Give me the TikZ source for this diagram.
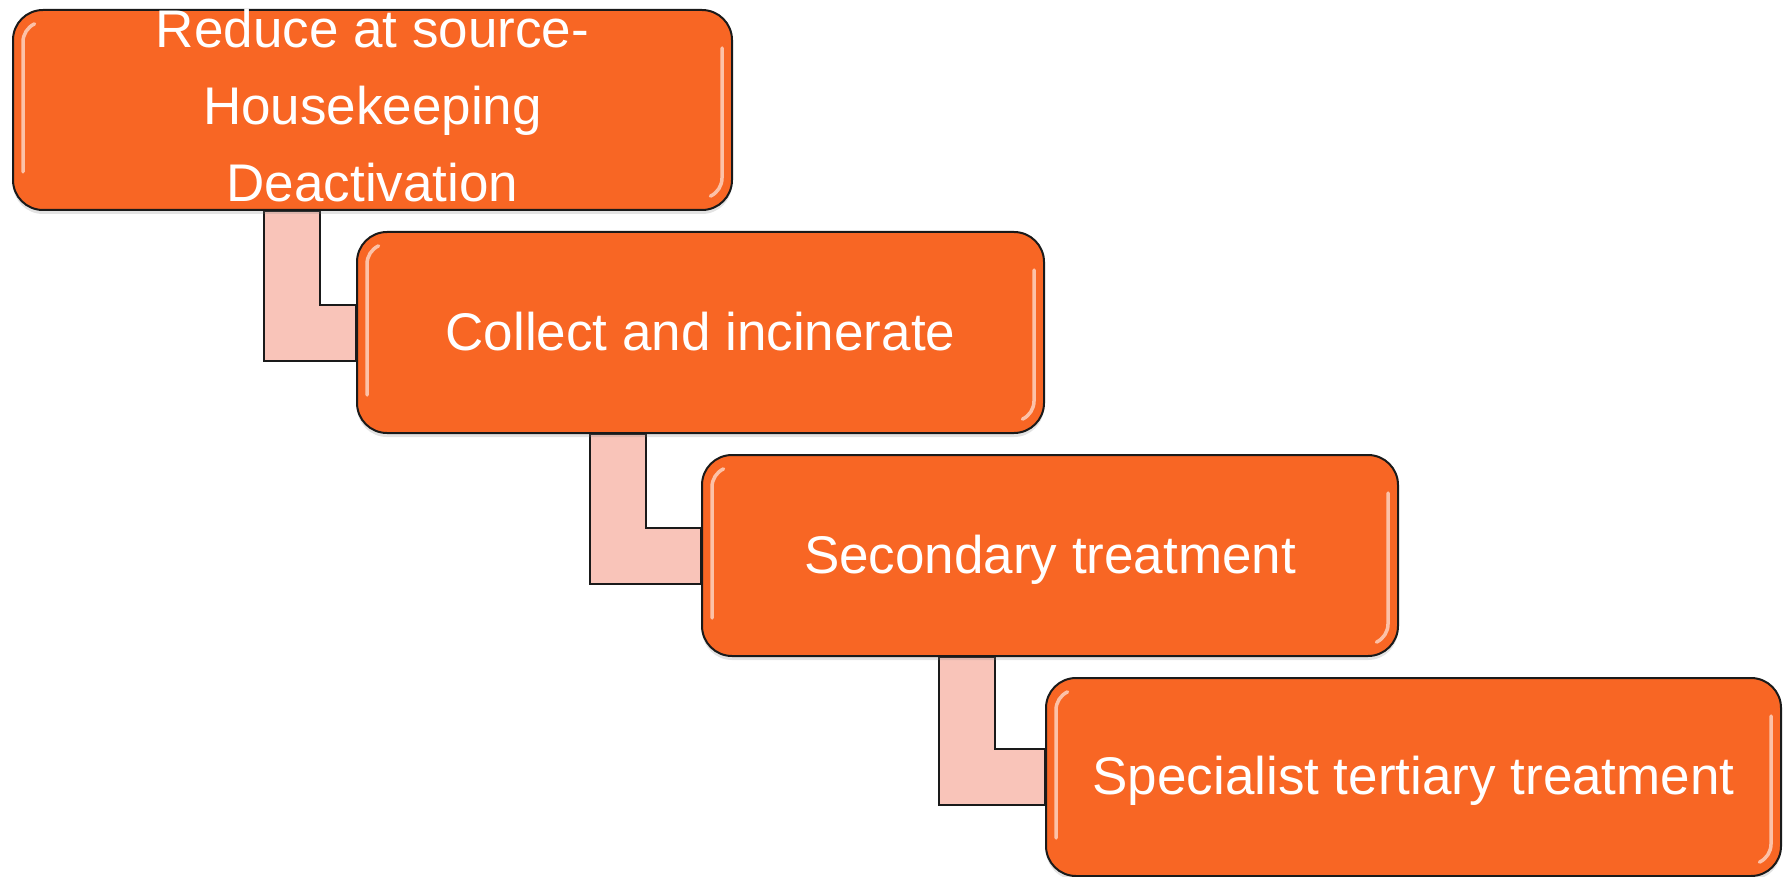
\documentclass[tikz,border=0pt]{standalone}
\usepackage{fontspec}
\setmainfont{Liberation Sans}
\usetikzlibrary{calc,shadows,backgrounds}
\definecolor{boxorange}{HTML}{F86624}
\definecolor{connpink}{HTML}{F9C4B9}
\definecolor{edgedark}{HTML}{1A1A1A}
\tikzset{
  stagebox/.style={draw=edgedark, line width=2pt, fill=boxorange, rounded corners=30pt,
    minimum height=200pt, anchor=north west, inner sep=0pt,
    drop shadow={opacity=0.22, shadow xshift=0pt, shadow yshift=-4pt},
    path picture={
      \draw[gloss] ([xshift=10pt,yshift=38pt]path picture bounding box.south west) -- ([xshift=10pt,yshift=-32pt]path picture bounding box.north west) arc[start angle=180, end angle=115, radius=20pt];
      \draw[gloss] ([xshift=-10pt,yshift=-38pt]path picture bounding box.north east) -- ([xshift=-10pt,yshift=32pt]path picture bounding box.south east) arc[start angle=0, end angle=-65, radius=20pt];
    }},
  gloss/.style={white, opacity=0.6, line width=3.5pt, line cap=round, sharp corners},
  stagetext/.style={text=white, font=\fontsize{53}{77}\selectfont, align=center, inner sep=0pt},
  elbow/.style={draw=edgedark, line width=2pt, fill=connpink, line join=miter},
}
\begin{document}
\begin{tikzpicture}[x=1pt,y=-1pt]
\useasboundingbox (0,0) rectangle (1787,877);
\node[stagebox, minimum width=719pt] (b1) at (12,9) {};
\node[stagebox, minimum width=687pt, minimum height=201pt] (b2) at (356,231) {};
\node[stagebox, minimum width=696pt, minimum height=201pt] (b3) at (701,454) {};
\node[stagebox, minimum width=735pt, minimum height=198pt] (b4) at (1045,677) {};
\node[stagetext] (t1) at ([yshift=4pt]b1.center) {Reduce at source-\\Housekeeping\\Deactivation};
\node[stagetext, anchor=base] (t2) at ([yshift=-18pt]b2.center) {Collect and incinerate};
\node[stagetext, anchor=base] (t3) at ([yshift=-18pt]b3.center) {Secondary treatment};
\node[stagetext, anchor=base] (t4) at ([yshift=-17pt]b4.center) {Specialist tertiary treatment};
\begin{scope}[on background layer]
\foreach \a/\b/\f in {b1/b2/0.35, b2/b3/0.339, b3/b4/0.341}{
  \draw[elbow] let \p1=($(\a.south west)!\f!(\a.south east)$), \p2=(\b.west) in
    (\x1,\y1) -- (\x1,\y2-28pt) -- (\x2,\y2-28pt) -- (\x2,\y2+28pt) -- (\x1+56pt,\y2+28pt) -- (\x1+56pt,\y1) -- cycle;
}
\end{scope}
\end{tikzpicture}
\end{document}
